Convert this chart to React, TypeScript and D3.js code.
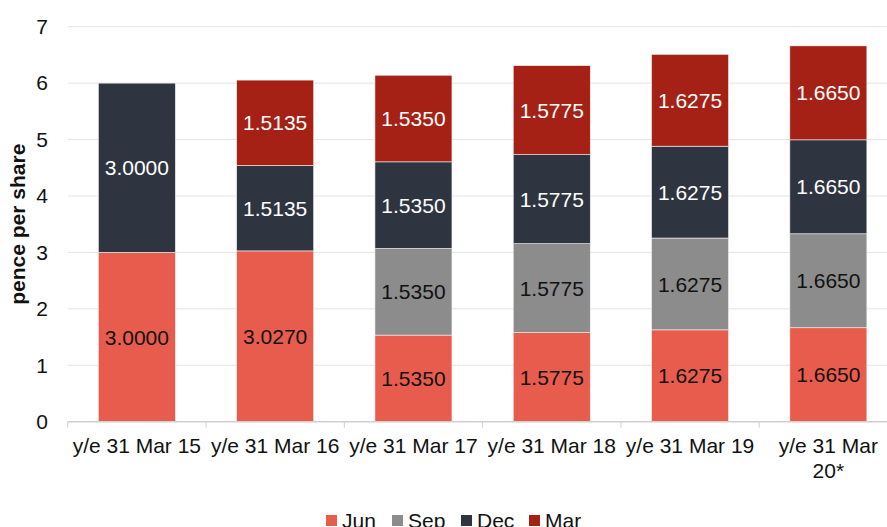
import React from "react";
import * as d3 from "d3";

const categories = ["y/e 31 Mar 15", "y/e 31 Mar 16", "y/e 31 Mar 17", "y/e 31 Mar 18", "y/e 31 Mar 19", "y/e 31 Mar 20*"];
const categoryLines = [["y/e 31 Mar 15"], ["y/e 31 Mar 16"], ["y/e 31 Mar 17"], ["y/e 31 Mar 18"], ["y/e 31 Mar 19"], ["y/e 31 Mar", "20*"]];
const seriesNames = ["Jun", "Sep", "Dec", "Mar"];
const jun = [3.0, 3.027, 1.535, 1.5775, 1.6275, 1.665];
const sep = [0, 0, 1.535, 1.5775, 1.6275, 1.665];
const dec = [3.0, 1.5135, 1.535, 1.5775, 1.6275, 1.665];
const mar = [0, 1.5135, 1.535, 1.5775, 1.6275, 1.665];
const yTicks = [0, 1, 2, 3, 4, 5, 6, 7];

const colors = ["#E85C4E", "#8C8C8C", "#2F3540", "#A52116"];
const textColors = ["#111", "#111", "#fff", "#fff"];

export default function App() {
  const W = 887, H = 527;
  const x0 = 67.7, step = 138.3;
  const x = d3.scaleBand<string>().domain(categories).range([x0, x0 + step * categories.length]).paddingInner(0.443).paddingOuter(0.443 / 2);
  const y = d3.scaleLinear().domain([0, 7]).range([421.7, 26.7]);
  const rows = categories.map((c, i) => ({ cat: c, Jun: jun[i], Sep: sep[i], Dec: dec[i], Mar: mar[i] }));
  const stack = d3.stack<any>().keys(seriesNames)(rows);
  const font = "'Liberation Sans', Arial, sans-serif";
  const legendX = [326, 392, 461, 529];
  const FS = 21;
  return (
    <svg width={W} height={H} style={{ position: "absolute", left: 0, top: 0, fontFamily: font }}>
      <rect width={W} height={H} fill="#fff" />
      {yTicks.map((t) => (
        <g key={t}>
          {t > 0 && <line x1={x0} x2={W} y1={y(t)} y2={y(t)} stroke="#E3E3E3" strokeWidth={1} />}
          <text x={48} y={y(t)} dy="0.35em" textAnchor="end" fontSize={FS} fill="#111">{t}</text>
        </g>
      ))}
      {stack.map((s, si) => (
        <g key={s.key}>
          {s.map((d, i) => {
            const v = d[1] - d[0];
            if (v <= 0) return null;
            const bx = x(categories[i])!;
            const bw = x.bandwidth();
            return (
              <g key={i}>
                <rect x={bx} y={y(d[1])} width={bw} height={y(d[0]) - y(d[1])} fill={colors[si]} stroke="#f4f4f4" strokeWidth={0.6} />
                <text x={bx + bw / 2} y={(y(d[0]) + y(d[1])) / 2} dy="0.36em" textAnchor="middle" fontSize={FS} fill={textColors[si]}>{v.toFixed(4)}</text>
              </g>
            );
          })}
        </g>
      ))}
      <line x1={x0} x2={W} y1={y(0)} y2={y(0)} stroke="#CFCFCF" strokeWidth={1.5} />
      {d3.range(categories.length + 1).map((i) => (
        <line key={i} x1={x0 + step * i} x2={x0 + step * i} y1={y(0)} y2={y(0) + 6} stroke="#CFCFCF" strokeWidth={1} />
      ))}
      {categoryLines.map((lines, i) => (
        <text key={i} x={x(categories[i])! + x.bandwidth() / 2} y={453} textAnchor="middle" fontSize={FS} fill="#111">
          {lines.map((l, j) => (
            <tspan key={j} x={x(categories[i])! + x.bandwidth() / 2} dy={j === 0 ? 0 : 25}>{l}</tspan>
          ))}
        </text>
      ))}
      <text transform={`translate(25,${(y(0) + y(7)) / 2}) rotate(-90)`} textAnchor="middle" fontSize={FS} fontWeight="bold" fill="#111">pence per share</text>
      {seriesNames.map((n, i) => (
        <g key={n}>
          <rect x={legendX[i]} y={515} width={11} height={11} fill={colors[i]} />
          <text x={legendX[i] + 16} y={528} fontSize={FS} fill="#111">{n}</text>
        </g>
      ))}
    </svg>
  );
}
